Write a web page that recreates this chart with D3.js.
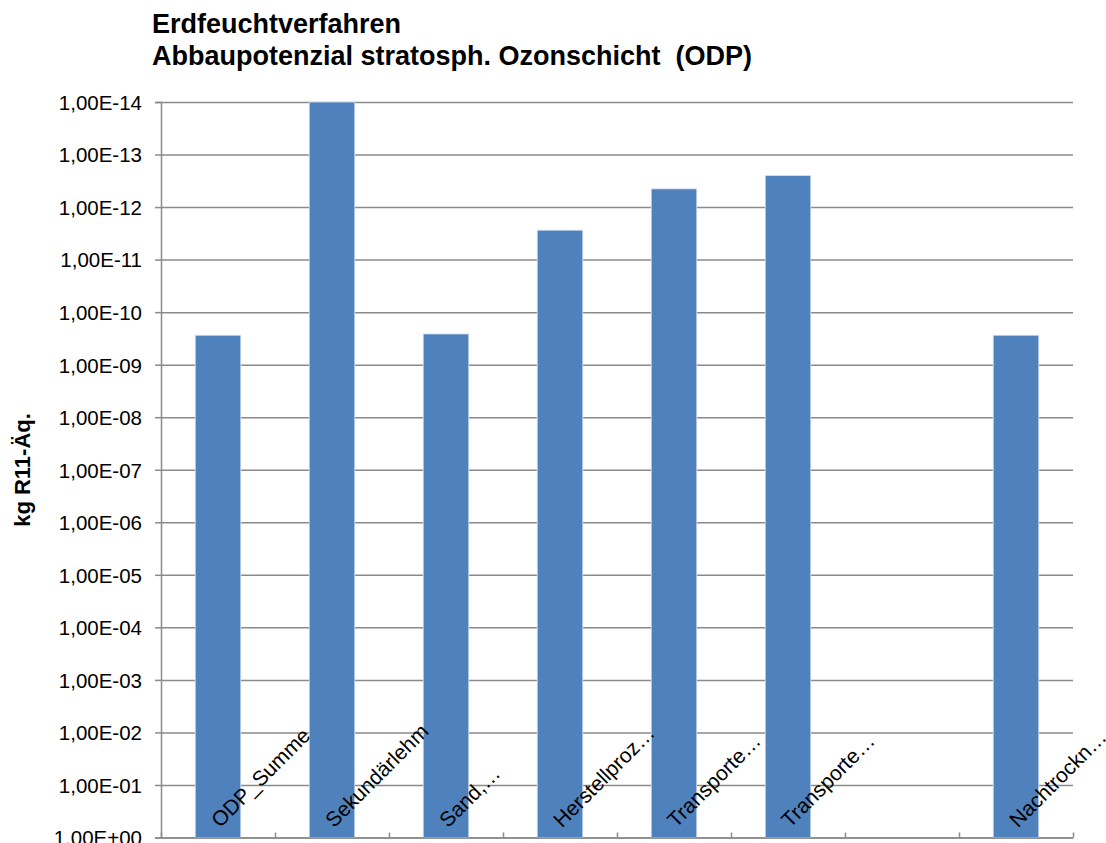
<!DOCTYPE html>
<html>
<head>
<meta charset="utf-8">
<script src="https://cdn.jsdelivr.net/npm/d3@7"></script>
<style>
  body { margin: 0; background: #fff; }
  svg { display: block; font-family: Arial, "Liberation Sans", sans-serif; }
  .title { font-weight: bold; font-size: 27px; white-space: pre; }
  .tick text { font-size: 20.5px; fill: #000; }
</style>
</head>
<body>
<svg id="chart" width="1106" height="843"></svg>
<script>
// categories (7th has no name and no bar)
const categories = ["ODP_Summe", "Sekundärlehm", "Sand,…", "Herstellproz…", "Transporte…", "Transporte…", "", "Nachtrockn…"];
// kg R11-Äq. per category
const values = [2.75e-10, 1e-14, 2.6e-10, 2.75e-12, 4.5e-13, 2.5e-13, null, 2.75e-10];
// y tick exponents 0 .. -14
const exponents = d3.range(0, 15);
const titleLines = ["Erdfeuchtverfahren", "Abbaupotenzial stratosph. Ozonschicht  (ODP)"];
const yTitle = "kg R11-Äq.";

const svg = d3.select("#chart");
const plotLeft = 161, plotRight = 1073, plotTop = 102, plotBottom = 837.5;
const gridColor = "#8a8a8a";

// reversed log axis: 1 at the bottom, 1e-14 at the top
let y = d3.scaleLog().domain([1, 1e-14]).range([plotBottom, plotTop]);
let x = d3.scaleBand().domain(d3.range(categories.length)).range([plotLeft, plotRight])
    .paddingInner(0.6).paddingOuter(0.3);
let xEdge = d3.scaleLinear().domain([0, categories.length]).range([plotLeft, plotRight]);

let fmt = v => {
    let e = Math.round(Math.log10(v));
    return "1,00E" + (e < 0 ? "-" : "+") + String(Math.abs(e)).padStart(2, "0");
};
let tickVals = exponents.map(e => Math.pow(10, -e));

// gridlines
svg.append("g").attr("transform", `translate(${plotLeft},0)`)
    .call(d3.axisLeft(y).tickValues(tickVals).tickSize(-(plotRight - plotLeft)).tickFormat(""))
    .call(g => g.select(".domain").remove())
    .call(g => g.selectAll("line").attr("stroke", gridColor).attr("stroke-width", 1.5));

// bars
svg.append("g").selectAll("rect")
    .data(values.map((v, i) => ({i: i, v: v})).filter(d => d.v != null))
    .join("rect")
    .attr("x", d => x(d.i)).attr("width", x.bandwidth())
    .attr("y", d => y(d.v)).attr("height", d => y(1) - y(d.v))
    .attr("fill", "#4f81bd").attr("stroke", "#dbe5f1").attr("stroke-width", 0.8);

// y axis
svg.append("g").attr("transform", `translate(${plotLeft},0)`)
    .call(d3.axisLeft(y).tickValues(tickVals).tickSize(6).tickPadding(13).tickFormat(fmt))
    .call(g => g.select(".domain").attr("stroke", gridColor).attr("stroke-width", 1.5))
    .call(g => g.selectAll(".tick line").attr("stroke", gridColor).attr("stroke-width", 1.5))
    .call(g => g.selectAll(".tick text").attr("dy", "0.36em"));

// x axis: ticks at category boundaries, pointing up
svg.append("g").attr("transform", `translate(0,${plotBottom})`)
    .call(d3.axisBottom(xEdge).tickValues(d3.range(0, categories.length + 1)).tickSize(-5).tickSizeOuter(0).tickFormat(""))
    .call(g => g.select(".domain").attr("stroke", gridColor).attr("stroke-width", 1.5))
    .call(g => g.selectAll(".tick line").attr("stroke", gridColor).attr("stroke-width", 1.5));

// category labels, rotated up from the base
svg.append("g").selectAll("text")
    .data(categories.map((c, i) => ({i: i, c: c})))
    .join("text")
    .attr("transform", d => `translate(${x(d.i) + x.bandwidth() / 2 + 2},${plotBottom - 9}) rotate(-45)`)
    .attr("font-size", "21px")
    .text(d => d.c);

// titles
svg.append("g").selectAll("text").data(titleLines).join("text")
    .attr("class", "title").attr("x", 152).attr("y", (d, i) => 33 + i * 32)
    .text(d => d);

svg.append("text")
    .attr("transform", "translate(30,470) rotate(-90)")
    .attr("text-anchor", "middle").attr("font-weight", "bold").attr("font-size", "22px")
    .text(yTitle);
</script>
</body>
</html>
